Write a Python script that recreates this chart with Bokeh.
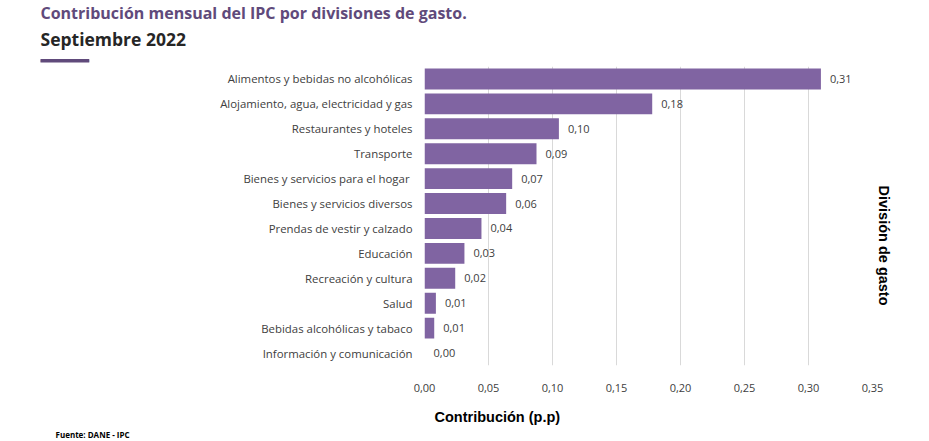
from bokeh.plotting import figure
from bokeh.models import (ColumnDataSource, FactorRange, Range1d, FixedTicker, Title)
from bokeh.core.properties import value
from bokeh.embed import file_html
from bokeh.resources import INLINE

# ---- data ----
categories = [
    "Alimentos y bebidas no alcohólicas",
    "Alojamiento, agua, electricidad y gas",
    "Restaurantes y hoteles",
    "Transporte",
    "Bienes y servicios para el hogar ",
    "Bienes y servicios diversos",
    "Prendas de vestir y calzado",
    "Educación",
    "Recreación y cultura",
    "Salud",
    "Bebidas alcohólicas y tabaco",
    "Información y comunicación",
]
values = [0.3097, 0.1779, 0.105, 0.0875, 0.0685, 0.0638, 0.0445, 0.0312, 0.024,
          0.0089, 0.0076, 0.0]
value_labels = ["0,31", "0,18", "0,10", "0,09", "0,07", "0,06", "0,04", "0,03",
                "0,02", "0,01", "0,01", "0,00"]
x_ticks = [0.0, 0.05, 0.10, 0.15, 0.20, 0.25, 0.30, 0.35]
x_tick_labels = ["0,00", "0,05", "0,10", "0,15", "0,20", "0,25", "0,30", "0,35"]

title_line1 = "Contribución mensual del IPC por divisiones de gasto."
title_line2 = "Septiembre 2022"
x_title = "Contribución (p.p)"
y_title = "División de gasto"
source_note = "Fuente: DANE - IPC"

BAR = "#8064A2"
TITLE_PURPLE = "#604A7B"
TEXT = "#404040"
FONT = "Open Sans"
BOLD_FONT = "Liberation Sans"

src = ColumnDataSource(dict(cat=categories, val=values, lab=value_labels))

p = figure(
    width=929, height=441,
    y_range=FactorRange(*reversed(categories), range_padding=0),
    x_range=Range1d(0, 0.35),
    output_backend="svg", toolbar_location=None,
    min_border_left=424, min_border_right=57,
    min_border_top=66, min_border_bottom=75,
)
p.outline_line_color = None
p.background_fill_color = "white"
p.border_fill_color = "white"

p.hbar(y="cat", right="val", left=0, height=0.84, source=src,
       fill_color=BAR, line_color=None)

p.text(x="val", y="cat", text="lab", source=src, x_offset=9,
       text_align="left", text_baseline="middle",
       text_font=value(FONT), text_font_size="11px", text_color=TEXT)

# axes
p.xaxis.ticker = FixedTicker(ticks=x_ticks)
p.xaxis.major_label_overrides = {t: l for t, l in zip(x_ticks, x_tick_labels)}
for ax in (p.xaxis[0], p.yaxis[0]):
    ax.axis_line_color = None
    ax.major_tick_line_color = None
    ax.minor_tick_line_color = None
    ax.major_label_text_font = FONT
    ax.major_label_text_color = TEXT
p.xaxis.major_label_text_font_size = "11px"
p.yaxis.major_label_text_font_size = "11.4px"
p.xaxis.major_label_standoff = 12
p.yaxis.major_label_standoff = 6

p.xgrid.grid_line_color = "#D9D9D9"
p.xgrid.ticker = FixedTicker(ticks=x_ticks)
p.ygrid.grid_line_color = None

# underline bar under the title (closest to frame), then the two title lines
p.add_layout(Title(text="x" * 27, text_font="DejaVu Sans Mono", text_font_size="3px",
                   text_color=TITLE_PURPLE, background_fill_color=TITLE_PURPLE,
                   align="left", offset=-384, standoff=8), "above")
p.add_layout(Title(text=title_line2, text_font=FONT, text_font_style="bold",
                   text_font_size="17.5px", text_color="#262626",
                   align="left", offset=-384, standoff=6), "above")
p.add_layout(Title(text=title_line1, text_font=FONT, text_font_style="bold",
                   text_font_size="16px", text_color=TITLE_PURPLE,
                   align="left", offset=-384, standoff=-5), "above")

# axis titles
p.add_layout(Title(text=x_title, text_font=BOLD_FONT, text_font_style="bold",
                   text_font_size="14.5px", text_color="#000000",
                   align="left", offset=10, standoff=29, vertical_align="top"), "below")
p.add_layout(Title(text=source_note, text_font=FONT, text_font_style="bold",
                   text_font_size="8px", text_color="#000000",
                   align="left", offset=-369, standoff=-26, vertical_align="top"), "below")
p.add_layout(Title(text=y_title, text_font=BOLD_FONT, text_font_style="bold",
                   text_font_size="14.5px", text_color="#000000",
                   align="left", offset=119, standoff=6), "right")

open("out.html", "w").write(file_html(p, INLINE))
